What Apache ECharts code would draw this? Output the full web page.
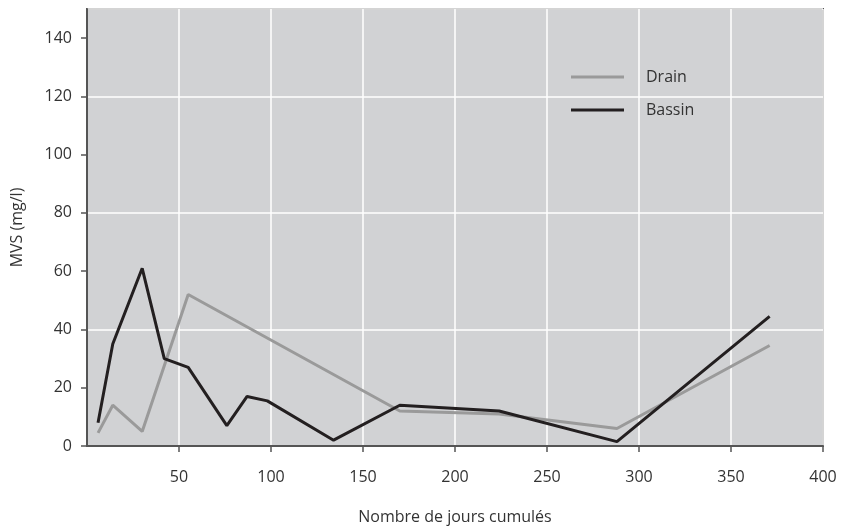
<!DOCTYPE html>
<html>
<head>
<meta charset="utf-8">
<script src="https://cdn.jsdelivr.net/npm/echarts@6/dist/echarts.min.js"></script>
<style>
	html,body{margin:0;padding:0;background:#fff;}
	#main{width:841px;height:527px;}
</style>
</head>
<body>
<div id="main"></div>
<script>
	// jours cumulés / MVS (mg/l)
	var drainX = [6, 14, 30, 55, 170, 224, 288, 371];
	var drainY = [4.5, 14, 5, 52, 12, 11, 6, 34.5];
	var bassinX = [6, 14, 30, 42, 55, 76, 87, 98, 134, 170, 224, 288, 371];
	var bassinY = [8, 35, 61, 30, 27, 7, 17, 15.5, 2, 14, 12, 1.5, 44.5];
	var legendNames = ['Drain', 'Bassin'];

	function pairs(xs, ys){
		var out = [];
		for(var i=0;i<xs.length;i++){
			out.push([xs[i], ys[i]]);
		}
		return out;
	}

	var font = 'Open Sans';
	var chart = echarts.init(document.getElementById('main'));
	var option = {
		animation: false,
		backgroundColor: '#fff',
		grid: {
			left: 87, top: 9, right: 18, bottom: 81,
			outerBoundsMode: 'none',
			containLabel: false,
			show: true,
			backgroundColor: '#d1d2d4',
			borderColor: '#555',
			borderWidth: 2
		},
		legend: {
			orient: 'vertical',
			left: 566,
			top: 64,
			itemGap: 17,
			itemWidth: 53,
			itemHeight: 3,
			icon: 'rect',
			data: legendNames,
			textStyle: {
				fontFamily: font,
				fontSize: 16,
				color: '#333',
				padding: [0, 0, 0, 17]
			}
		},
		xAxis: {
			type: 'value',
			min: 0,
			max: 400,
			interval: 50,
			name: 'Nombre de jours cumulés',
			nameLocation: 'middle',
			nameGap: 63,
			nameTextStyle: {fontFamily: font, fontSize: 16, color: '#333'},
			axisLine: {show: true, lineStyle: {color: '#555', width: 2}},
			axisTick: {show: true, length: 6, lineStyle: {color: '#555', width: 1.5}},
			axisLabel: {
				margin: 23,
				fontFamily: font,
				fontSize: 16,
				color: '#333',
				showMinLabel: false
			},
			splitLine: {show: true, lineStyle: {color: '#fff', width: 1.5}}
		},
		yAxis: [{
			type: 'value',
			min: 0,
			max: 150,
			interval: 20,
			name: 'MVS (mg/l)',
			nameLocation: 'middle',
			nameGap: 62,
			nameTextStyle: {fontFamily: font, fontSize: 16, color: '#333'},
			axisLine: {show: true, lineStyle: {color: '#555', width: 2}},
			axisTick: {show: true, length: 6, lineStyle: {color: '#555', width: 1.5}},
			axisLabel: {
				margin: 15,
				fontFamily: font,
				fontSize: 16,
				color: '#333',
				showMaxLabel: false
			},
			splitLine: {show: false}
		}, {
			// only the white grid lines every 40
			type: 'value',
			min: 0,
			max: 150,
			interval: 40,
			position: 'left',
			axisLine: {show: false},
			axisTick: {show: false},
			axisLabel: {show: false},
			splitLine: {show: true, lineStyle: {color: '#fff', width: 1.5}}
		}],
		series: [{
			name: 'Drain',
			type: 'line',
			yAxisIndex: 0,
			symbol: 'none',
			color: '#9a9a9a',
			lineStyle: {color: '#9a9a9a', width: 3},
			data: pairs(drainX, drainY)
		}, {
			name: 'Bassin',
			type: 'line',
			yAxisIndex: 0,
			symbol: 'none',
			color: '#231f20',
			lineStyle: {color: '#231f20', width: 3},
			data: pairs(bassinX, bassinY)
		}]
	};
	chart.setOption(option);
</script>
</body>
</html>
